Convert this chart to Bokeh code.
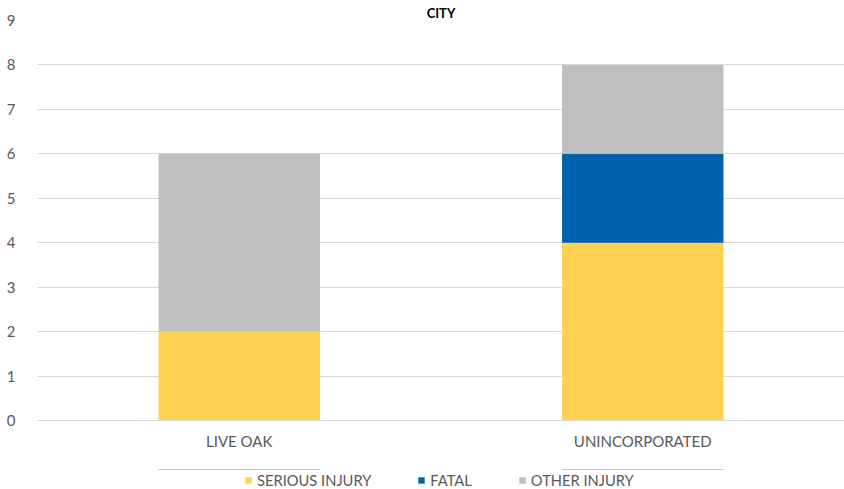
from bokeh.plotting import figure
from bokeh.layouts import column
from bokeh.models import ColumnDataSource, Legend, LegendItem, FactorRange, Range1d
from bokeh.embed import file_html
from bokeh.resources import INLINE

title = "CITY"
categories = ["LIVE OAK", "UNINCORPORATED"]
series = ["SERIOUS INJURY", "FATAL", "OTHER INJURY"]
serious = [2, 4]
fatal = [0, 2]
other = [4, 2]
colors = ["#FFD24F", "#0062AD", "#BFBFBF"]
y_max = 9

src = ColumnDataSource(data={"cat": categories, "SERIOUS INJURY": serious,
                             "FATAL": fatal, "OTHER INJURY": other})

p = figure(width=844, height=469, output_backend="svg", toolbar_location=None,
           x_range=FactorRange(*categories, range_padding=0),
           y_range=Range1d(0, y_max),
           min_border_top=20, min_border_left=37, min_border_right=0, min_border_bottom=49)

p.title.text = title
p.title.align = "center"
p.title.text_font = "Lato"
p.title.text_font_size = "13px"
p.title.text_font_style = "bold"
p.title.text_color = "#000000"
p.title.offset = 0
p.title.standoff = 0

p.vbar_stack(series, x="cat", width=0.4, source=src, color=colors, line_color=None)

p.outline_line_color = None
p.background_fill_color = "white"
p.border_fill_color = "white"

p.xgrid.grid_line_color = None
p.ygrid.grid_line_color = "#D9D9D9"
p.ygrid.grid_line_width = 1
p.yaxis.ticker = list(range(0, y_max + 1))

for ax in (p.xaxis, p.yaxis):
    ax.major_tick_line_color = None
    ax.minor_tick_line_color = None
    ax.major_label_text_font = "Lato"
    ax.major_label_text_font_size = "15px"
    ax.major_label_text_color = "#595959"
p.yaxis.axis_line_color = None
p.yaxis.major_label_standoff = 16
p.xaxis.axis_line_color = "#D9D9D9"
p.xaxis.major_label_standoff = 5

# legend row as its own strip below the chart (its bars lie far outside its view)
lf = figure(width=844, height=20, output_backend="svg", toolbar_location=None,
            x_range=FactorRange(*categories, range_padding=0), y_range=Range1d(-1000, -999),
            x_axis_type=None, y_axis_type=None, title=None,
            min_border_top=0, min_border_left=0, min_border_right=0, min_border_bottom=0)
lf.outline_line_color = None
lf.xgrid.grid_line_color = None
lf.ygrid.grid_line_color = None
lrs = lf.vbar_stack(series, x="cat", width=0.4, source=src, color=colors, line_color=None)
legend = Legend(items=[LegendItem(label=s, renderers=[r]) for s, r in zip(series, lrs)],
                orientation="horizontal", location=(207, 0),
                glyph_width=8, glyph_height=8, label_standoff=5, spacing=46,
                padding=0, margin=0, border_line_color=None, background_fill_alpha=0,
                label_text_font="Lato", label_text_font_size="14.7px",
                label_text_color="#595959")
lf.add_layout(legend)

layout = column(p, lf, spacing=0)
open("out.html", "w").write(file_html(layout, INLINE))
